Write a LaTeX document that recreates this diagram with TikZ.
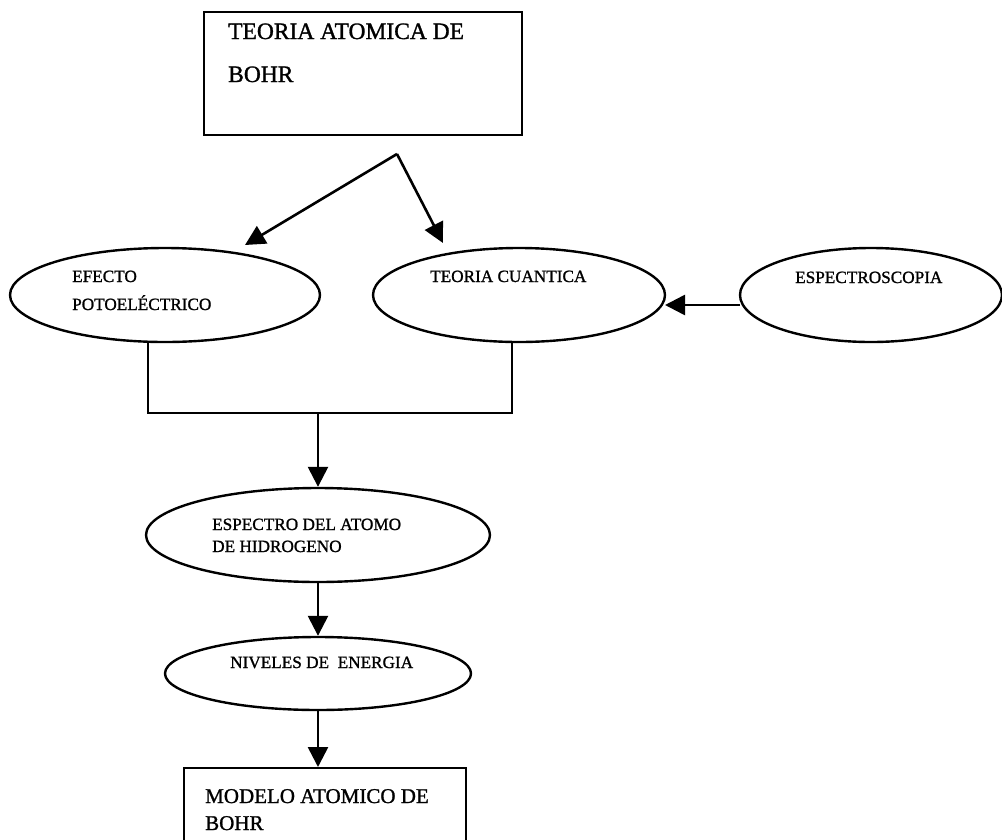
\documentclass[tikz,border=0pt]{standalone}
\usepackage{fontspec}
\setmainfont{Liberation Serif}[FakeBold=1.2]
\usetikzlibrary{shapes.geometric,arrows.meta}
\tikzset{
  conn/.style={line width=2.6pt},
  arr/.style={conn,-{Triangle[length=20pt,width=20pt]}},
  oval/.style={draw,ellipse,line width=2.4pt,inner sep=0pt},
  box/.style={draw,rectangle,line width=2.4pt,inner sep=0pt},
  big/.style={anchor=base west,inner sep=0pt,font=\fontsize{23.5}{26}\selectfont},
  mid/.style={anchor=base west,inner sep=0pt,font=\fontsize{21}{24}\selectfont},
  small/.style={anchor=base west,inner sep=0pt,font=\fontsize{17.2}{20}\selectfont},
}
\begin{document}
\begin{tikzpicture}[x=1pt,y=-1pt]
\useasboundingbox (0,0) rectangle (1002,839);
\clip (0,0) rectangle (1002,839);
% top box
\node[box,minimum width=318pt,minimum height=123pt] (top) at (363,73.5) {};
\node[big] (t1) at (228,39) {TEORIA ATOMICA DE};
\node[big] (t2) at (228,82) {BOHR};
% ellipses
\node[oval,minimum width=310pt,minimum height=94pt] (e1) at (165,295) {};
\node[small] (e1a) at (72,282) {EFECTO};
\node[small] (e1b) at (72,310) {POTOELÉCTRICO};
\node[oval,minimum width=292pt,minimum height=94pt] (e2) at (519,295) {};
\node[small] (e2a) at (430,282) {TEORIA CUANTICA};
\node[oval,minimum width=262pt,minimum height=94pt] (e3) at (871,295) {};
\node[small] (e3a) at (795,283) {ESPECTROSCOPIA};
\node[oval,minimum width=344pt,minimum height=94pt] (e4) at (318,535) {};
\node[small] (e4a) at (212,530) {ESPECTRO DEL ATOMO};
\node[small] (e4b) at (212,552) {DE HIDROGENO};
\node[oval,minimum width=306pt,minimum height=73pt] (e5) at (318,673.5) {};
\node[small] (e5a) at (230,668) {NIVELES DE\ \ ENERGIA};
% bottom box
\node[box,minimum width=282pt,minimum height=100pt,anchor=north west] (bot) at (183,767) {};
\node[mid] (b1) at (205,803) {MODELO ATOMICO DE};
\node[mid] (b2) at (205,830) {BOHR};
% coordinates
\coordinate (apex) at (397,154);
\coordinate (tipL) at (245,245);
\coordinate (tipR) at (443,243);
\coordinate (e1s) at (148,341);
\coordinate (e2s) at (512,341);
\coordinate (join) at (318,413);
\coordinate (e3w) at (740,305);
\coordinate (e2e) at (665,305);
% connectors
\draw[arr] (apex) -- (tipL);
\draw[arr] (apex) -- (tipR);
\draw[arr] (e3w) -- (e2e);
\draw[conn] (e1s) |- (join) -| (e2s);
\draw[arr] (join) -- (e4.north);
\draw[arr] (e4.south) -- (e5.north);
\draw[arr] (e5.south) -- (bot.north -| e5.south);
\end{tikzpicture}
\end{document}
